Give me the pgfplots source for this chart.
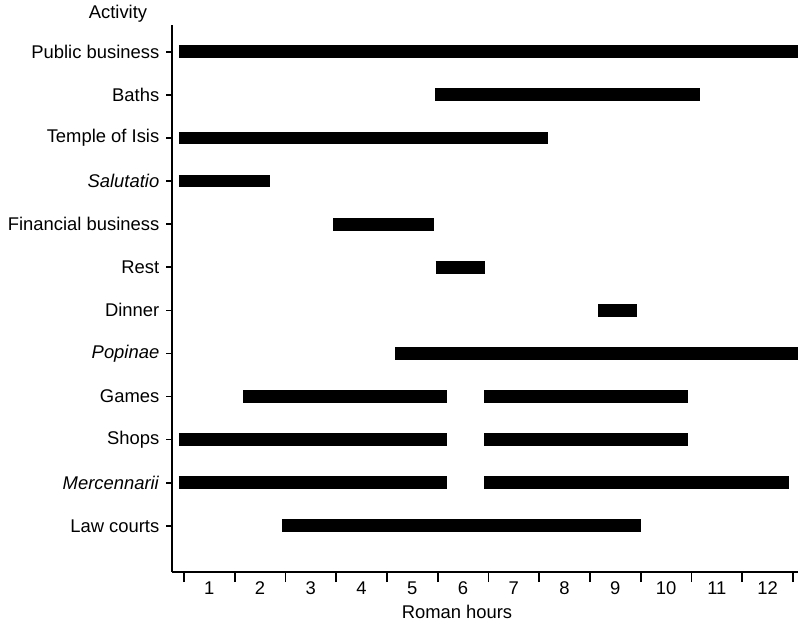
\documentclass[border=0pt]{standalone}
\usepackage{fontspec}
\setmainfont{Liberation Sans}
\usepackage{pgfplots}
\pgfplotsset{compat=1.18}
\begin{document}
\fontsize{9.2}{11}\selectfont
\begin{tikzpicture}
\path[use as bounding box] (-86pt,-30pt) rectangle (313pt,286pt);
\begin{axis}[
  at={(0,0)}, anchor=south west,
  scale only axis, width=313pt, height=273.5pt,
  xmin=-0.236, xmax=12.1, ymin=-1.07, ymax=11.62,
  axis x line=bottom, axis y line=left,
  axis line style={-, line width=1pt, black},
  tick align=outside,
  xtick={0,...,12}, xticklabels={},
  major tick length=5pt,
  x tick style={line width=0.9pt, black},
  y tick style={line width=0.8pt, black},
  extra x ticks={0.5,1.5,...,11.5},
  extra x tick labels={1,2,3,4,5,6,7,8,9,10,11,12},
  extra x tick style={major tick length=0pt, xticklabel style={yshift=-1.5pt}},
  ytick=\empty,
  extra y ticks={0,...,11},
  extra y tick labels={Law courts,\textit{Mercennarii},Shops,Games,\textit{Popinae},Dinner,Rest,Financial business,\textit{Salutatio},Temple of Isis,Baths,Public business},
  extra y tick style={major tick length=2.8pt, yticklabel style={xshift=-0.3pt}},
  /pgf/number format/assume math mode=true,
  tick label style={font=\fontsize{9.2}{11}\selectfont},
]
\addplot[black, line width=6.4pt] coordinates {(-0.1,11) (12.1,11)};
\addplot[black, line width=6.4pt] coordinates {(4.95,10) (10.17,10)};
\addplot[black, line width=6.4pt] coordinates {(-0.1,9) (7.17,9)};
\addplot[black, line width=6.4pt] coordinates {(-0.1,8) (1.70,8)};
\addplot[black, line width=6.4pt] coordinates {(2.94,7) (4.93,7)};
\addplot[black, line width=6.4pt] coordinates {(4.96,6) (5.93,6)};
\addplot[black, line width=6.4pt] coordinates {(8.16,5) (8.92,5)};
\addplot[black, line width=6.4pt] coordinates {(4.16,4) (12.1,4)};
\addplot[black, line width=6.4pt] coordinates {(1.17,3) (5.18,3)};
\addplot[black, line width=6.4pt] coordinates {(5.92,3) (9.94,3)};
\addplot[black, line width=6.4pt] coordinates {(-0.1,2) (5.18,2)};
\addplot[black, line width=6.4pt] coordinates {(5.92,2) (9.94,2)};
\addplot[black, line width=6.4pt] coordinates {(-0.1,1) (5.18,1)};
\addplot[black, line width=6.4pt] coordinates {(5.92,1) (11.92,1)};
\addplot[black, line width=6.4pt] coordinates {(1.93,0) (9.01,0)};
\end{axis}
\node at (-27pt,279pt) {Activity};
\node at (142.5pt,-20pt) {Roman hours};
\end{tikzpicture}
\end{document}
